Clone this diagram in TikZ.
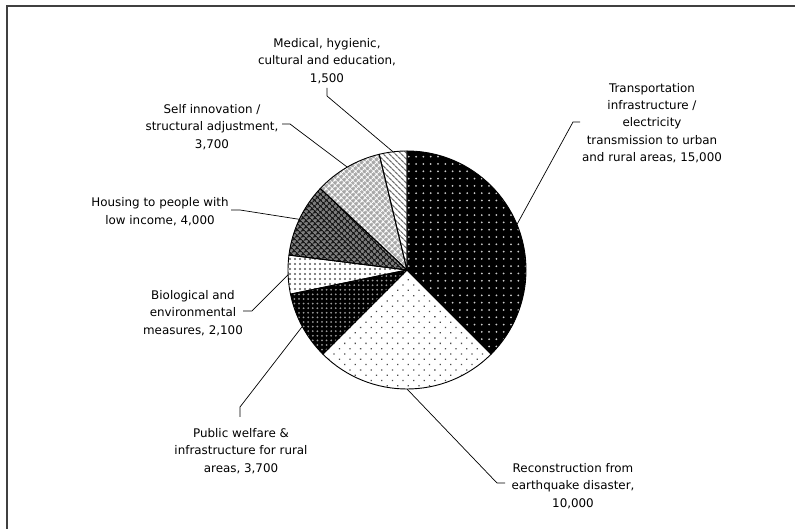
\documentclass[tikz,border=0pt]{standalone}
\usepackage{fontspec}
\setmainfont{DejaVu Sans}
\usetikzlibrary{patterns,patterns.meta,calc}
\begin{document}
\begin{tikzpicture}[x=1pt,y=1pt,
  lbl/.style={align=center,inner sep=0pt,font=\fontsize{11.9}{17.4}\selectfont},
  leader/.style={draw=black,line width=0.7pt},
  edge/.style={draw=black,line width=0.9pt}]
\useasboundingbox (0,0) rectangle (795,529);
% frame (right and bottom sides fall outside the picture)
\draw[line width=1.6pt,black!75] (7,0) -- (7,523) -- (795,523);
\coordinate (c) at (407,259);
\def\R{119}
% slices
\def\slice#1#2{(c) -- ($(c)+(#1:\R)$) arc[start angle=#1,end angle=#2,radius=\R] -- cycle}
% Transportation
\fill[black] \slice{90}{-45};
\fill[pattern={Dots[distance=7.3pt,radius=1pt]},pattern color=black!20] \slice{90}{-45};
% Reconstruction
\fill[white] \slice{-45}{-135};
\fill[pattern={Dots[distance=7.5pt,angle=45,radius=0.9pt]},pattern color=black!70] \slice{-45}{-135};
% Public welfare
\fill[black] \slice{-135}{-168.3};
\fill[pattern={Dots[distance=4.6pt,radius=1pt]},pattern color=black!40] \slice{-135}{-168.3};
% Biological
\fill[white] \slice{-168.3}{-187.2};
\fill[pattern={Dots[distance=5pt,radius=1.1pt]},pattern color=black!65] \slice{-168.3}{-187.2};
% Housing
\fill[black!50] \slice{-187.2}{-223.2};
\fill[pattern={Hatch[distance=4pt,angle=45,line width=1.3pt]},pattern color=black!90] \slice{-187.2}{-223.2};
% Self innovation
\fill[black!35] \slice{-223.2}{-256.5};
\fill[pattern={Hatch[distance=4pt,angle=45,line width=1.1pt]},pattern color=white] \slice{-223.2}{-256.5};
% Medical
\fill[white] \slice{-256.5}{-270};
\fill[pattern={Lines[distance=4pt,angle=-45,line width=1.3pt]},pattern color=black!55] \slice{-256.5}{-270};
% outlines
\foreach \a/\b in {90/-45,-45/-135,-135/-168.3,-168.3/-187.2,-187.2/-223.2,-223.2/-256.5,-256.5/-270}{
  \draw[edge,line join=round] \slice{\a}{\b};
}
% edge points
\coordinate (eT) at ($(c)+(22.5:\R)$);
\coordinate (eR) at ($(c)+(-90:\R)$);
\coordinate (eP) at ($(c)+(-151.65:\R)$);
\coordinate (eB) at ($(c)+(-177.75:\R)$);
\coordinate (eH) at ($(c)+(-205.2:\R)$);
\coordinate (eS) at ($(c)+(-239.85:\R)$);
\coordinate (eM) at ($(c)+(-263.25:\R)$);
% labels
\node[lbl] (lM) at (327,468) {Medical, hygienic,\\cultural and education,\\1,500};
\node[lbl] (lS) at (212,402) {Self innovation /\\structural adjustment,\\3,700};
\node[lbl] (lH) at (160,317.5) {Housing to people with\\low income, 4,000};
\node[lbl] (lB) at (193,216) {Biological and\\environmental\\measures, 2,100};
\node[lbl] (lP) at (241,78) {Public welfare \&\\infrastructure for rural\\areas, 3,700};
\node[lbl] (lR) at (573,43) {Reconstruction from\\earthquake disaster,\\10,000};
\node[lbl] (lT) at (652,406) {Transportation\\infrastructure /\\electricity\\transmission to urban\\and rural areas, 15,000};
% leader start points
\coordinate (sM) at (327,441);
\coordinate (kM) at (327,433);
\coordinate (sS) at (282,405);
\coordinate (kS) at (290,405);
\coordinate (sH) at (231,319);
\coordinate (kH) at (240,319);
\coordinate (sB) at (243,218);
\coordinate (kB) at (252,218);
\coordinate (sP) at (240,112);
\coordinate (kP) at (240,122);
\coordinate (sR) at (505,46);
\coordinate (kR) at (497,46);
\coordinate (sT) at (580,407);
\coordinate (kT) at (573,407);
% leaders
\draw[leader] (sM) -- (kM) -- (eM);
\draw[leader] (sS) -- (kS) -- (eS);
\draw[leader] (sH) -- (kH) -- (eH);
\draw[leader] (sB) -- (kB) -- (eB);
\draw[leader] (sP) -- (kP) -- (eP);
\draw[leader] (sR) -- (kR) -- (eR);
\draw[leader] (sT) -- (kT) -- (eT);
\end{tikzpicture}
\end{document}
